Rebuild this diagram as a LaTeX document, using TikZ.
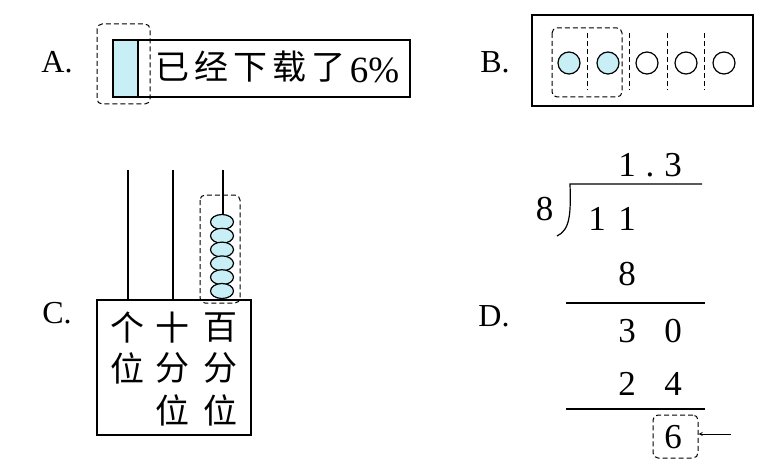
\documentclass[tikz,border=0pt]{standalone}
\usepackage{fontspec}
\setmainfont{Liberation Serif}
\newfontfamily\serif{Liberation Serif}
\newfontfamily\cjk{Noto Sans CJK SC}
\usetikzlibrary{
  calc,
  positioning,
  arrows,
  shapes.geometric}
\definecolor{lightblue}{RGB}{200,238,246}
\newcommand\zbox[1]{\makebox[39pt]{#1}}

\begin{document}
\begin{tikzpicture}[
  x=1pt,y=-1pt,
  >=stealth,
  line width=1.2pt,
  dashbox/.style={draw,dashed,dash pattern=on 5pt off 3pt,rounded corners=5pt,line width=1pt},
  dashline/.style={draw,dashed,dash pattern=on 5pt off 3pt,line width=0.9pt},
  lbl/.style={font=\serif\fontsize{32}{32}\selectfont,inner sep=0pt},
  num/.style={font=\serif\fontsize{35}{35}\selectfont,inner sep=0pt,anchor=base},
  zi/.style={font=\cjk\fontsize{34}{34}\selectfont,inner sep=0pt},
  bead/.style={ellipse,draw,fill=lightblue,minimum width=23pt,minimum height=15pt,inner sep=0pt},
  dot/.style={circle,draw,minimum size=22pt,inner sep=0pt}
]%
  \useasboundingbox (0,0) rectangle (781,468);

  % A
  \node[lbl] (la) at (57,62) {A.};
  \draw (113,40) rectangle (410,97);
  \draw[fill=lightblue] (113,40) rectangle (138,97);
  \draw[dashbox] (97,24) rectangle (150,104);
  \node[zi,anchor=west] (txt) at (152,67) {\zbox{已}\zbox{经}\zbox{下}\zbox{载}\zbox{了}};
  \node[inner sep=0pt,font=\serif\fontsize{37}{37}\selectfont,right=1pt of txt.east,anchor=west,yshift=-3pt] (pct) {6\%};

  % B
  \node[lbl] (lb) at (495,62) {B.};
  \draw (532,15) rectangle (753,106);
  \draw[dashbox] (552,28) rectangle (622,97);
  \foreach \x in {587,629,667,704}
    \draw[dashline] (\x,33) -- (\x,90);
  \foreach \x/\n in {569/1,608/2}
    \node[dot,fill=lightblue] (c\n) at (\x,63) {};
  \foreach \x/\n in {647/3,686/4,724/5}
    \node[dot,fill=white] (c\n) at (\x,63) {};

  % C
  \node[lbl] (lc) at (57,313) {C.};
  \node[draw,minimum width=154pt,minimum height=135pt,inner sep=0pt] (abox) at (174,367.5) {};
  \draw (128,170) -- (128,300);
  \draw (173,170) -- (173,300);
  \draw (223,170) -- (223,300);
  \foreach \i in {0,...,5}
    \node[bead] (b\i) at (222,222+13.8*\i) {};
  \draw[dashbox] (200,195) rectangle (240,303);
  \node[zi] at (127,328) {个};
  \node[zi] at (127,368) {位};
  \node[zi] at (172,328) {十};
  \node[zi] at (172,368) {分};
  \node[zi] at (172,410) {位};
  \node[zi] at (220,328) {百};
  \node[zi] at (220,368) {分};
  \node[zi] at (220,410) {位};

  % D
  \node[lbl] (ld) at (494,316) {D.};
  \node[num] (q1) at (627,176) {1};
  \node[num] (qd) at (650,176) {.};
  \node[num] (q3) at (673,176) {3};
  \node[num] (dv) at (544.5,220) {8};
  \node[num] (n1) at (597,230) {1};
  \node[num] (n2) at (627,230) {1};
  \draw (702,184) -- (570,184) .. controls (571,214) and (570,230) .. (557,236);
  \node[num] (s1) at (627,285) {8};
  \draw (566,303) -- (705,303);
  \node[num] (r1) at (627,342) {3};
  \node[num] (r2) at (673,342) {0};
  \node[num] (s2) at (627,395) {2};
  \node[num] (s3) at (673,395) {4};
  \draw (566,409) -- (705,409);
  \node[num] (six) at (673,448) {6};
  \node[dashbox,minimum width=45pt,minimum height=43pt] (sixbox) at (675.5,436.5) {};
  \coordinate (tail) at (731,434);
  \draw[->,line width=0.9pt] (tail) -- (sixbox.east |- tail);
\end{tikzpicture}
\end{document}
